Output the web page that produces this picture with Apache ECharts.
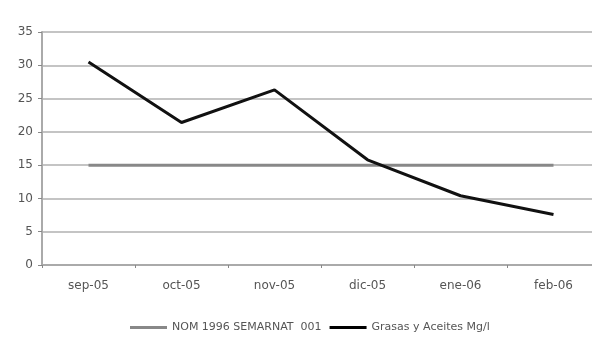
<!DOCTYPE html>
<html><head><meta charset="utf-8">
<script src="https://cdn.jsdelivr.net/npm/echarts@6/dist/echarts.min.js"></script>
<style>html,body{margin:0;padding:0;background:#fff;overflow:hidden}#c{width:600px;height:339px}</style>
</head><body><div id="c"></div>
<script>
const categories = ['sep-05','oct-05','nov-05','dic-05','ene-06','feb-06'];
const nomValues = [15, 15, 15, 15, 15, 15];
const grasasValues = [30.5, 21.4, 26.3, 15.8, 10.4, 7.6];
const yTicks = [0, 5, 10, 15, 20, 25, 30, 35];

const chart = echarts.init(document.getElementById('c'));
chart.setOption({
  animation: false,
  backgroundColor: '#fff',
  textStyle: {fontFamily: 'DejaVu Sans'},
  grid: {left: 42, right: 0, top: 32, bottom: 74},
  legend: {
    bottom: 1, left: 125, itemWidth: 37, itemHeight: 3, itemGap: 8,
    textStyle: {fontSize: 11, color: '#555', fontFamily: 'DejaVu Sans'},
    data: [
      {name: 'NOM 1996 SEMARNAT  001', icon: 'rect', itemStyle: {color: '#888'}},
      {name: 'Grasas y Aceites Mg/l', icon: 'rect', itemStyle: {color: '#000'}}
    ]
  },
  xAxis: {
    type: 'category', data: categories, boundaryGap: true,
    axisLine: {lineStyle: {color: '#aaa', width: 2}},
    axisTick: {show: true, length: 3, lineStyle: {color: '#888'}},
    axisLabel: {fontSize: 12, color: '#555', margin: 15}
  },
  yAxis: {
    type: 'value', min: yTicks[0], max: yTicks[yTicks.length-1], interval: 5,
    axisLine: {show: true, lineStyle: {color: '#aaa', width: 2}},
    axisTick: {show: true, length: 4, lineStyle: {color: '#888'}},
    axisLabel: {fontSize: 12, color: '#555', margin: 9},
    splitLine: {lineStyle: {color: '#c4c4c4', width: 2}}
  },
  series: [
    {name: 'NOM 1996 SEMARNAT  001', type: 'line', data: nomValues, symbol: 'none',
     lineStyle: {color: '#888', width: 3}, itemStyle: {color: '#888'}},
    {name: 'Grasas y Aceites Mg/l', type: 'line', data: grasasValues, symbol: 'none',
     lineStyle: {color: '#111', width: 3}, itemStyle: {color: '#111'}}
  ]
});
</script></body></html>
